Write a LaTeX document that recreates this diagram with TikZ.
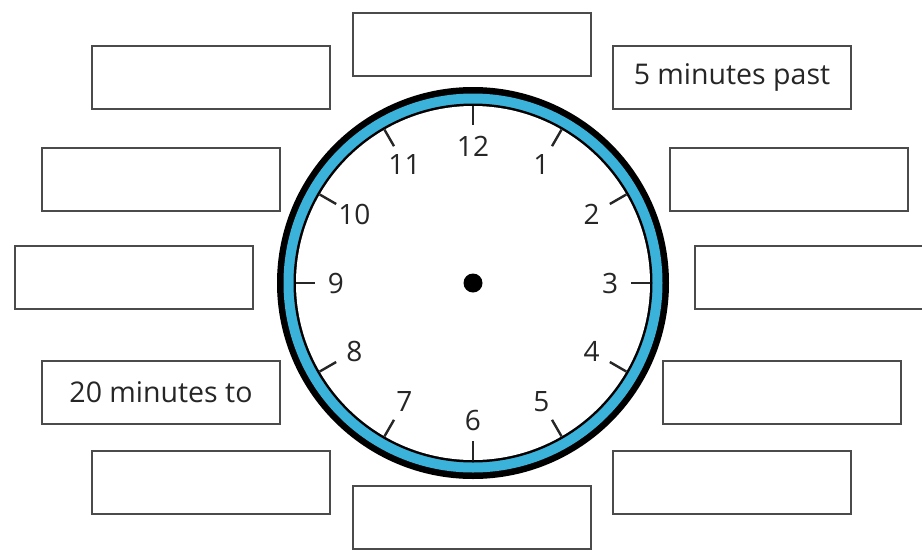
\documentclass[tikz,border=0pt]{standalone}
\usepackage{fontspec}
\setmainfont{Open Sans}
\usetikzlibrary{calc}
\definecolor{clockblue}{RGB}{58,178,218}
\definecolor{boxline}{RGB}{75,75,75}
\tikzset{
  answerbox/.style={draw=boxline, line width=2.6pt, fill=white, minimum width=238pt, minimum height=63pt, inner sep=0pt, font=\fontsize{28.5}{30}\selectfont, text=black!85},
  hournum/.style={font=\fontsize{28}{30}\selectfont, text=black!85, inner sep=0pt},
  hourtick/.style={line width=2.4pt, black!85}
}
\begin{document}
\begin{tikzpicture}[x=1pt,y=-1pt]
\useasboundingbox (0,0) rectangle (922,550);
% boxes (centres)
\node[answerbox] (bt)  at (472,44.5) {};
\node[answerbox] (btl) at (211,77.5) {};
\node[answerbox] (btr) at (732,77.5) {\raisebox{-2pt}{5 minutes past}};
\node[answerbox] (bl2) at (161,179.5) {};
\node[answerbox] (br2) at (789,179.5) {};
\node[answerbox] (bl3) at (134,277.5) {};
\node[answerbox] (br3) at (814,277.5) {};
\node[answerbox] (bl4) at (161,392.5) {\raisebox{-1pt}{20 minutes to}};
\node[answerbox] (br4) at (782,392.5) {};
\node[answerbox] (bbl) at (211,482.5) {};
\node[answerbox] (bbr) at (732,482.5) {};
\node[answerbox] (bb)  at (472,517.5) {};
% clock
\coordinate (c) at (473,283);
\fill[black] (c) circle (196pt);
\fill[clockblue] (c) circle (189.5pt);
\fill[black] (c) circle (179.5pt);
\fill[white] (c) circle (177pt);
\foreach \h in {1,...,12}{
  \draw[hourtick] ($(c)+({90-30*\h}:177pt)$) -- ($(c)+({90-30*\h}:158pt)$);
  \node[hournum] (n\h) at ($(c)+({90-30*\h}:137pt)$) {\h};
}
\fill[black] (c) circle (9.5pt);
\end{tikzpicture}
\end{document}
